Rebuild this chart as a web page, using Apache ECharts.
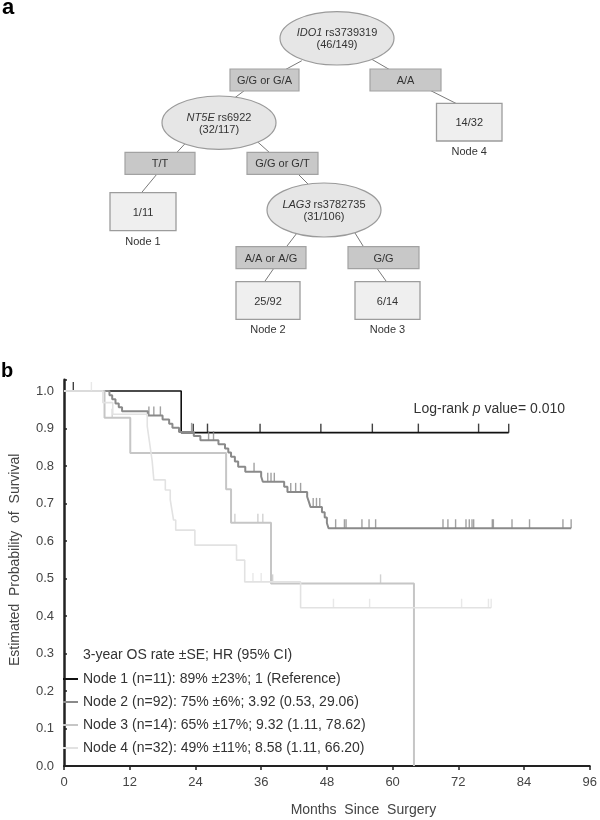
<!DOCTYPE html>
<html>
<head>
<meta charset="utf-8">
<script src="https://cdn.jsdelivr.net/npm/echarts@6/dist/echarts.min.js"></script>
<style>
html,body{margin:0;padding:0;background:#fff;}
#chart{width:600px;height:820px;}
</style>
</head>
<body>
<div id="chart"></div>
<script>
// ---------- Panel a: decision tree content ----------
const splitGenes = ['IDO1', 'NT5E', 'LAG3'];
const splitSnps = ['rs3739319', 'rs6922', 'rs3782735'];
const splitRatios = ['(46/149)', '(32/117)', '(31/106)'];
const branchLabels = ['G/G or G/A', 'A/A', 'T/T', 'G/G or G/T', 'A/A or A/G', 'G/G'];
const leafRatios = ['14/32', '1/11', '25/92', '6/14'];
const leafNames = ['Node 4', 'Node 1', 'Node 2', 'Node 3'];

// ---------- Panel b: Kaplan-Meier data (months, survival) ----------
const nodeNames = ['Node 1', 'Node 2', 'Node 3', 'Node 4'];
const nodeSummaries = [
  'Node 1 (n=11): 89% \u00b123%; 1 (Reference)',
  'Node 2 (n=92): 75% \u00b16%; 3.92 (0.53, 29.06)',
  'Node 3 (n=14): 65% \u00b117%; 9.32 (1.11, 78.62)',
  'Node 4 (n=32): 49% \u00b111%; 8.58 (1.11, 66.20)'
];
const legendTitle = '3-year OS rate \u00b1SE; HR (95% CI)';
const logRankValue = '0.010';

const node1Times = [0, 21.4, 81.2];
const node1Surv  = [1.0, 0.889, 0.889];
const node1Censor = [1.7, 23.6, 26.2, 35.8, 46.9, 56.3, 64.7, 75.7, 81.2];

const node2Times = [0, 8.3, 8.8, 9.4, 10.0, 10.6, 15.3, 18.0, 19.2, 19.8, 21.0, 23.7, 24.9, 28.2, 29.4, 30.0, 30.5, 31.2, 31.8, 33.1, 36.0, 36.3, 40.2, 40.8, 44.4, 44.7, 45.0, 47.1, 47.6, 48.0, 48.3, 92.6];
const node2Surv  = [1.0, 0.989, 0.978, 0.967, 0.957, 0.946, 0.935, 0.924, 0.913, 0.902, 0.891, 0.880, 0.869, 0.858, 0.847, 0.836, 0.825, 0.812, 0.798, 0.785, 0.772, 0.758, 0.745, 0.731, 0.718, 0.705, 0.691, 0.677, 0.663, 0.648, 0.634, 0.634];
const node2Censor = [15.5, 16.4, 17.6, 23.3, 26.4, 27.3, 34.7, 37.2, 37.8, 38.4, 41.4, 42.3, 43.2, 45.5, 46.1, 46.7, 49.6, 51.2, 51.5, 54.4, 55.7, 56.9, 69.2, 70.1, 71.5, 73.4, 74.0, 74.5, 74.8, 78.2, 78.4, 81.8, 85.0, 91.1, 92.6];

const node3Times = [0, 7.4, 12.1, 29.6, 30.5, 37.8, 63.9];
const node3Surv  = [1.0, 0.929, 0.835, 0.738, 0.649, 0.487, 0.0];
const node3Censor = [8.8, 31.2, 35.4, 36.3, 38.1, 57.8];

const node4Times = [0, 7.1, 8.9, 15.2, 15.5, 15.8, 16.1, 16.4, 18.5, 19.4, 19.7, 20.0, 20.4, 23.9, 31.5, 33.0, 43.2, 78.0];
const node4Surv  = [1.0, 0.969, 0.938, 0.906, 0.875, 0.844, 0.813, 0.763, 0.736, 0.710, 0.683, 0.656, 0.629, 0.589, 0.549, 0.491, 0.422, 0.422];
const node4Censor = [5.0, 34.5, 36.0, 49.2, 55.8, 72.6, 77.5, 78.0];

// ---------- styles & layout (kept separate from data) ----------
const FONT = '"Liberation Sans", Arial, sans-serif';
const nodeColors = ['#111111', '#8a8a8a', '#c6c6c6', '#e2e2e2'];
const nodeWidths = [1.6, 2, 2, 1.6];

const ellipseLayout = [[337, 38.3, 57, 26.7], [219, 122.7, 57, 26.7], [324, 210, 57, 27]];
const branchLayout = [[230, 69, 69, 22], [370, 69, 71, 22], [125, 152.3, 70, 22], [247, 152.3, 71, 22], [236, 246.7, 70, 22], [348, 246.7, 71, 22]];
const leafLayout = [[436.5, 103.3, 65.5, 37.7], [110, 192.7, 66, 38], [236, 281.7, 64, 37.6], [355, 281.7, 65, 37.6]];
const connectorLayout = [
  [300, 61.7, 286.5, 69], [373, 60, 388.5, 69], [430.8, 90.7, 455.8, 103.3],
  [244.2, 90.7, 235.4, 97.3], [183.8, 145, 177, 152.3], [258.5, 142.7, 269.2, 152.3],
  [157, 174, 141.5, 192.7], [298, 174, 307.7, 183.7], [296, 234.3, 286.5, 246.7],
  [355.8, 234.3, 363.5, 246.7], [273.8, 268.3, 264.6, 281.7], [377, 268.3, 386.5, 281.7]
];

function survAt(times, surv, t) {
  let v = surv[0];
  for (let i = 0; i < times.length; i++) { if (times[i] <= t) v = surv[i]; }
  return v;
}

const allTimes = [node1Times, node2Times, node3Times, node4Times];
const allSurv = [node1Surv, node2Surv, node3Surv, node4Surv];
const allCensor = [node1Censor, node2Censor, node3Censor, node4Censor];

// ---------- tree graphics ----------
const graphics = [];
connectorLayout.forEach(c => {
  const dx = c[2] - c[0], dy = c[3] - c[1];
  const len = Math.sqrt(dx * dx + dy * dy);
  const ex = dx / len * 2, ey = dy / len * 2;
  graphics.push({ type: 'line', z: 1, shape: { x1: c[0] - ex, y1: c[1] - ey, x2: c[2] + ex, y2: c[3] + ey },
    style: { stroke: '#7a7a7a', lineWidth: 1 } });
});
ellipseLayout.forEach((e, i) => {
  graphics.push({ type: 'ellipse', z: 2, shape: { cx: e[0], cy: e[1], rx: e[2], ry: e[3] },
    style: { fill: '#e6e6e6', stroke: '#9a9a9a', lineWidth: 1.2 } });
  graphics.push({ type: 'text', z: 3, x: e[0], y: e[1] + 1,
    style: { text: '{i|' + splitGenes[i] + '}{n| ' + splitSnps[i] + '}\n{n|' + splitRatios[i] + '}',
      align: 'center', verticalAlign: 'middle', fill: '#333', font: '11px ' + FONT,
      rich: { i: { fontStyle: 'italic', fontSize: 11, fontFamily: FONT, fill: '#333', lineHeight: 12 },
              n: { fontSize: 11, fontFamily: FONT, fill: '#333', lineHeight: 12 } } } });
});
branchLayout.forEach((b, i) => {
  graphics.push({ type: 'rect', z: 2, shape: { x: b[0], y: b[1], width: b[2], height: b[3] },
    style: { fill: '#c8c8c8', stroke: '#a2a2a2', lineWidth: 1.2 } });
  graphics.push({ type: 'text', z: 3, x: b[0] + b[2] / 2, y: b[1] + b[3] / 2 + 1,
    style: { text: branchLabels[i], align: 'center', verticalAlign: 'middle', fill: '#333', font: '11px ' + FONT } });
});
leafLayout.forEach((l, i) => {
  graphics.push({ type: 'rect', z: 2, shape: { x: l[0], y: l[1], width: l[2], height: l[3] },
    style: { fill: '#efefef', stroke: '#9c9c9c', lineWidth: 1.3 } });
  graphics.push({ type: 'text', z: 3, x: l[0] + l[2] / 2, y: l[1] + l[3] / 2 + 1,
    style: { text: leafRatios[i], align: 'center', verticalAlign: 'middle', fill: '#333', font: '11px ' + FONT } });
  graphics.push({ type: 'text', z: 3, x: l[0] + l[2] / 2, y: l[1] + l[3] + 11,
    style: { text: leafNames[i], align: 'center', verticalAlign: 'middle', fill: '#333', font: '11px ' + FONT } });
});
graphics.push({ type: 'text', z: 3, x: 2, y: 7.5,
  style: { text: 'a', align: 'left', verticalAlign: 'middle', fill: '#000', font: 'bold 22px ' + FONT } });
graphics.push({ type: 'text', z: 3, x: 1, y: 371.7,
  style: { text: 'b', align: 'left', verticalAlign: 'middle', fill: '#000', font: 'bold 20px ' + FONT } });
graphics.push({ type: 'text', z: 3, x: 565, y: 409,
  style: { text: '{n|Log-rank }{i|p}{n| value= ' + logRankValue + '}', align: 'right', verticalAlign: 'middle',
    font: '14px ' + FONT, fill: '#333',
    rich: { n: { fontSize: 14, fontFamily: FONT, fill: '#333' }, i: { fontSize: 14, fontFamily: FONT, fontStyle: 'italic', fill: '#333' } } } });

// ---------- series ----------
const series = [];
nodeNames.forEach((name, k) => {
  series.push({
    type: 'line', name: name, step: 'end', symbol: 'none', showSymbol: false,
    data: allTimes[k].map((t, i) => [t, allSurv[k][i]]),
    lineStyle: { color: nodeColors[k], width: nodeWidths[k] },
    itemStyle: { color: nodeColors[k] },
    z: 2 + k, silent: true
  });
});
nodeNames.forEach((name, k) => {
  series.push({
    type: 'scatter', name: name + ' censored', symbol: 'rect', symbolSize: [1.4, 9], symbolOffset: [0, -4.5],
    data: allCensor[k].map(t => [t, survAt(allTimes[k], allSurv[k], t)]),
    itemStyle: { color: nodeColors[k] }, z: 2 + k, silent: true
  });
});

const chart = echarts.init(document.getElementById('chart'), null, { renderer: 'canvas' });
chart.setOption({
  animation: false,
  backgroundColor: '#ffffff',
  title: { text: legendTitle, left: 83, top: 648, padding: 0,
    textStyle: { fontSize: 14, fontWeight: 'normal', color: '#333', fontFamily: FONT } },
  legend: {
    data: nodeNames, orient: 'vertical', left: 63, top: 672, padding: 0,
    itemWidth: 15, itemHeight: 2, itemGap: 9, icon: 'rect', selectedMode: false,
    formatter: n => nodeSummaries[nodeNames.indexOf(n)],
    textStyle: { fontSize: 14, color: '#333', fontFamily: FONT }
  },
  grid: { left: 57, right: 10, top: 379.75, bottom: 54, containLabel: false },
  xAxis: {
    type: 'value', min: 0, max: 96, interval: 12,
    axisLine: { lineStyle: { color: '#222', width: 2 } },
    axisTick: { inside: false, length: 4, lineStyle: { color: '#222', width: 1.5 } },
    axisLabel: { fontSize: 13, color: '#444', margin: 10, fontFamily: FONT },
    splitLine: { show: false },
    name: 'Months  Since  Surgery', nameLocation: 'middle', nameGap: 37,
    nameTextStyle: { fontSize: 14, color: '#444', fontFamily: FONT, padding: [0, 0, 0, 73] }
  },
  yAxis: {
    type: 'value', min: 0, max: 1.03, interval: 0.1,
    axisLine: { show: true, lineStyle: { color: '#222', width: 2.5 } },
    axisTick: { show: true, inside: true, length: 3, lineStyle: { color: '#222', width: 1.5 } },
    axisLabel: { fontSize: 13, color: '#444', margin: 10, fontFamily: FONT,
      formatter: v => (Math.abs(v * 10 - Math.round(v * 10)) < 1e-6 ? v.toFixed(1) : '') },
    splitLine: { show: false },
    name: 'Estimated  Probability  of  Survival', nameLocation: 'middle', nameGap: 42,
    nameTextStyle: { fontSize: 14, color: '#444', fontFamily: FONT, padding: [0, 0, 0, 26] }
  },
  graphic: graphics,
  series: series
});
</script>
</body>
</html>
